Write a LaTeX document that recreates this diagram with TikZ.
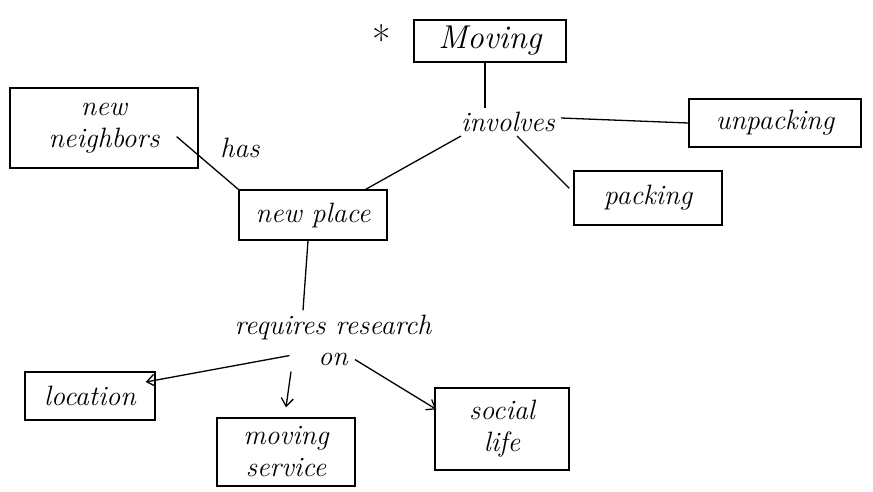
\documentclass[tikz,border=0pt]{standalone}
\usetikzlibrary{arrows.meta,calc}
\begin{document}
\begin{tikzpicture}[x=1pt,y=-1pt,
  concept/.style={draw, line width=1.3pt, inner sep=0pt, align=center, font=\fontsize{28}{32}\selectfont\itshape},
  linkword/.style={inner sep=0pt, align=center, font=\fontsize{28}{31}\selectfont\itshape},
  conn/.style={line width=1.3pt},
  arr/.style={line width=1.3pt, -{Straight Barb[length=8pt,width=12pt]}}]
\useasboundingbox (0,0) rectangle (873,491);
\node[concept, minimum width=152pt, minimum height=42pt, font=\fontsize{33}{30}\selectfont\itshape] (moving) at (490,41) {Moving};
\node[font=\fontsize{40}{40}\selectfont] (star) at (382,40) {*};
\node[linkword] (involves) at (508,122) {involves};
\node[concept, minimum width=172pt, minimum height=48pt] (unpacking) at (775,123) {unpacking};
\node[concept, minimum width=148pt, minimum height=54pt] (packing) at (648,198) {packing};
\node[concept, minimum width=188pt, minimum height=80pt] (neighbors) at (104,128) {new\\neighbors};
\node[linkword] (has) at (240,148) {has};
\node[concept, minimum width=148pt, minimum height=50pt] (newplace) at (313,215) {new place};
\node[linkword] (requires) at (333,340) {requires research\\on};
\node[concept, minimum width=130pt, minimum height=48pt] (location) at (90,396) {location};
\node[concept, minimum width=138pt, minimum height=68pt] (service) at (286,452) {moving\\service};
\node[concept, minimum width=134pt, minimum height=82pt] (social) at (502,429) {social\\life};

\draw[conn] (moving.south -| 485,0) -- ($(involves.north -| 485,0)+(0,-4)$);
\draw[conn] ($(involves.east)+(6,-4)$) -- (unpacking.west);
\draw[conn] ($(involves.south east)+(-38,4)$) -- ($(packing.north west)+(-4,18)$);
\draw[conn] ($(involves.south west)+(0,4)$) -- ($(newplace.north east)+(-22,0)$);
\draw[conn] ($(neighbors.south east)+(-22,-32)$) coordinate (nbend) -- (newplace.north west);
\draw[conn] (newplace.south -| 308,0) -- ($(requires.north -| 303,0)+(0,-4)$);
\draw[arr] ($(requires.south west)+(55,-10)$) coordinate (r1) -- ($(location.east)+(-10,-14)$);
\draw[arr] ($(requires.south)+(-42,6)$) coordinate (r2) -- ($(service.north)+(0,-10)$);
\draw[arr] ($(requires.south)+(22,-6)$) coordinate (r3) -- ($(social.north west)+(2,22)$);
\end{tikzpicture}
\end{document}
